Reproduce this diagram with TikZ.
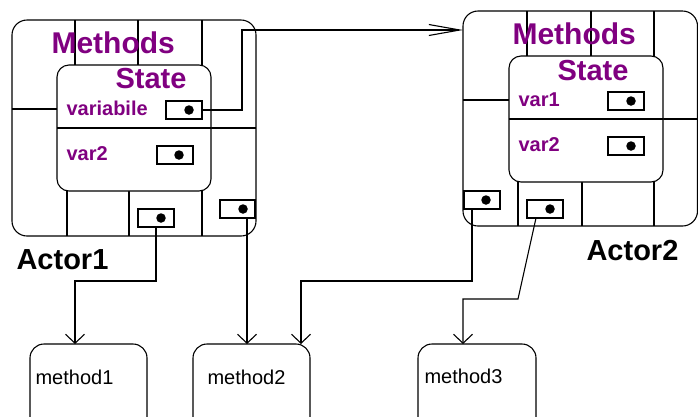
\documentclass[tikz,border=0pt]{standalone}
\usepackage{fontspec}
\setmainfont{Liberation Sans}
\usetikzlibrary{arrows.meta,calc}
\definecolor{slotpurple}{RGB}{128,0,128}
\begin{document}
\begin{tikzpicture}[x=1bp,y=-1bp,line width=1.1bp,
  frame/.style={draw,rectangle,inner sep=0pt,outer sep=0pt,anchor=north west,fill=white},
  port/.style={draw,rectangle,inner sep=0pt,outer sep=0pt,anchor=north west,fill=white,
    minimum width=36bp,minimum height=18bp},
  pin/.style={circle,fill=black,inner sep=0pt,minimum size=9.5bp},
  bigtitle/.style={anchor=base west,inner sep=0pt,font=\bfseries\fontsize{29bp}{29bp}\selectfont},
  methtitle/.style={bigtitle,text=slotpurple,font=\bfseries\fontsize{30bp}{30bp}\selectfont},
  slotname/.style={anchor=base west,inner sep=0pt,text=slotpurple,font=\bfseries\fontsize{20bp}{20bp}\selectfont},
  methname/.style={anchor=base west,inner sep=0pt,font=\fontsize{20bp}{20bp}\selectfont},
  arr/.style={-{Straight Barb[length=9bp,width=19bp]}},
  longarr/.style={-{Straight Barb[length=31bp,width=11bp]}}]
\clip (0,0) rectangle (698,416);

% ---------------- Actor1 ----------------
\node[frame,rounded corners=15bp,minimum width=244bp,minimum height=216bp] (a1) at (12,20) {};
\draw (75,20) -- (75,66) (138,20) -- (138,66) (202,20) -- (202,68);
\draw (67,190) -- (67,236) (129,190) -- (129,236) (202,190) -- (202,236);
\draw (12,109) -- (58,109) (210,128) -- (256,128);
\node[frame,rounded corners=12bp,minimum width=154bp,minimum height=126bp] (s1) at (57,65) {};
\draw (57,128) -- (211,128);
\node[methtitle] (meth1) at (51,53) {Methods};
\node[bigtitle,text=slotpurple] (st1) at (115,88) {State};
\node[slotname] (v11) at (66,115) {variabile};
\node[slotname] (v12) at (66,160) {var2};
\node[port] (p11) at (166,101) {};
\node[pin] at (189,110) {};
\node[port] (p12) at (157,146) {};
\node[pin] at (179,155) {};
\node[port] (p13) at (138,209) {};
\node[pin] at (161,218) {};
\node[port,minimum width=35bp] (p14) at (220,200) {};
\node[pin] at (243,209) {};
\node[bigtitle] (lab1) at (16,269) {Actor1};

% ---------------- Actor2 ----------------
\node[frame,rounded corners=15bp,minimum width=234.5bp,minimum height=215bp] (a2) at (463,11) {};
\draw (527,11) -- (527,57) (591,11) -- (591,57) (654,11) -- (654,58);
\draw (518,181) -- (518,226) (582,181) -- (582,226) (654,181) -- (654,226);
\draw (463,100) -- (510,100) (662,119) -- (698,119);
\node[frame,rounded corners=12bp,minimum width=154bp,minimum height=126bp] (s2) at (509,56) {};
\draw (509,119) -- (663,119);
\node[methtitle] (meth2) at (512,44) {Methods};
\node[bigtitle,text=slotpurple] (st2) at (557,80) {State};
\node[slotname] (v21) at (518,106) {var1};
\node[slotname] (v22) at (518,151) {var2};
\node[port] (p21) at (608,92) {};
\node[pin] at (631,101) {};
\node[port] (p22) at (608,137) {};
\node[pin] at (631,146) {};
\node[port] (p23) at (464,191) {};
\node[pin] at (486,200) {};
\node[port] (p24) at (527,200) {};
\node[pin] at (550,209) {};
\node[bigtitle] (lab2) at (586,260) {Actor2};

% ---------------- method boxes ----------------
\node[frame,rounded corners=14bp,minimum width=117bp,minimum height=90bp] (m1) at (30,344) {};
\node[frame,rounded corners=14bp,minimum width=117bp,minimum height=90bp] (m2) at (193,344) {};
\node[frame,rounded corners=14bp,minimum width=118bp,minimum height=90bp] (m3) at (418,344) {};
\node[methname] (m1t) at (35,384) {method1};
\node[methname] (m2t) at (207,384) {method2};
\node[methname] (m3t) at (424,383) {method3};

% ---------------- connectors ----------------
\coordinate (j1) at (242,30);
\draw[longarr] (p11.east) -| (j1) -- (j1 -| a2.west);

\coordinate (t1) at ($(m1.north west)+(45,0)$);
\draw[arr] (p13.south) -- ++(0,54) -| (t1);

\coordinate (s14) at ($(p14.south)+(9.5,0)$);
\draw[arr] (s14) -- (s14 |- m2.north);

\coordinate (s23) at ($(p23.south)+(-10,0)$);
\coordinate (t2) at ($(m2.north east)+(-9,0)$);
\draw[arr] (s23) -- ++(0,72) -| (t2);

\coordinate (s24) at ($(p24.south)+(-9,0)$);
\coordinate (t3) at ($(m3.north west)+(45,0)$);
\draw[arr] (s24) -- (518,299) -| (t3);
\end{tikzpicture}
\end{document}
